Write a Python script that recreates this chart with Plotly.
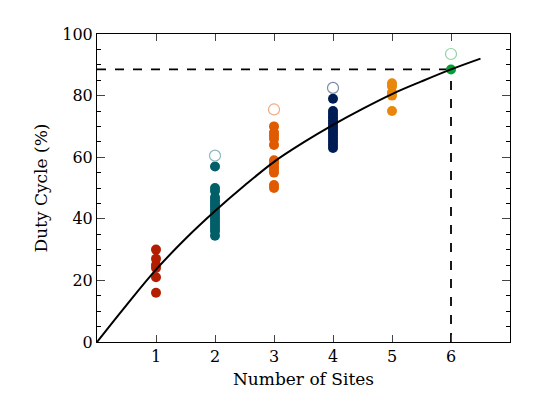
import plotly.graph_objects as go

# values
sites = [1, 2, 3, 4, 5, 6]
site_colors = ["#b41e00", "#005f69", "#e05a00", "#001c55", "#e8870a", "#00a035"]
open_colors = ["#b41e00", "#8ab8bd", "#f0a882", "#7f8aa8", "#e8870a", "#8fd3a3"]

duty_filled = [
    [30, 27, 25, 24, 21, 16],
    [57, 50, 49, 47, 46, 45, 44, 43, 42, 41, 40, 39, 38, 37, 36, 34.5],
    [70, 68, 67, 66, 64, 59, 58, 57, 56, 55, 51, 50],
    [79, 75, 74, 73, 72, 71, 70, 69, 68, 67, 66, 65, 64, 63],
    [84, 83, 81, 80, 75],
    [88.5],
]
duty_open = [None, 60.5, 75.5, 82.5, None, 93.5]

curve_x = [0, 0.5, 1, 1.5, 2, 2.5, 3, 3.5, 4, 4.5, 5, 5.5, 6, 6.5]
curve_y = [0, 12, 23.5, 33.5, 42.5, 50.8, 58.5, 64.8, 70.5, 75.7, 80.5, 84.6, 88.5, 92]

target_x = 6
target_y = 88.5

FONT = "DejaVu Serif"

fig = go.Figure()

# dashed guide lines
fig.add_trace(go.Scatter(
    x=[0, target_x], y=[target_y, target_y], mode="lines",
    line=dict(color="black", width=1.8, dash="dash"), showlegend=False,
))
fig.add_trace(go.Scatter(
    x=[target_x, target_x], y=[0, target_y], mode="lines",
    line=dict(color="black", width=1.8, dash="dash"), showlegend=False,
))

for i, s in enumerate(sites):
    vals = duty_filled[i]
    fig.add_trace(go.Scatter(
        x=[s] * len(vals), y=vals, mode="markers",
        marker=dict(size=10, color=site_colors[i], line=dict(width=0)),
        showlegend=False,
    ))
    if duty_open[i] is not None:
        fig.add_trace(go.Scatter(
            x=[s], y=[duty_open[i]], mode="markers",
            marker=dict(size=11, symbol="circle-open", color=open_colors[i],
                        line=dict(width=1.2)),
            showlegend=False,
        ))

fig.add_trace(go.Scatter(
    x=curve_x, y=curve_y, mode="lines", line_shape="spline",
    line=dict(color="black", width=2), showlegend=False,
))

fig.update_layout(
    width=540, height=405,
    paper_bgcolor="white", plot_bgcolor="white",
    margin=dict(l=89, r=38, t=26, b=71),
    font=dict(family=FONT, size=16, color="black"),
)
fig.update_xaxes(
    range=[0, 7], tickvals=sites, ticks="inside", ticklen=7, tickwidth=1,
    showline=True, linecolor="black", linewidth=1, mirror="allticks",
    showgrid=False, zeroline=False,
    title=dict(text="Number of Sites", font=dict(family=FONT, size=17), standoff=7),
)
fig.update_yaxes(
    range=[0, 100], dtick=20, ticks="inside", ticklen=8, tickwidth=1,
    minor=dict(dtick=5, ticks="inside", ticklen=4, tickwidth=1, tickcolor="black"),
    showline=True, linecolor="black", linewidth=1, mirror="allticks",
    showgrid=False, zeroline=False,
    title=dict(text="Duty Cycle (%)", font=dict(family=FONT, size=17), standoff=10),
)

fig.write_html("out.html")
